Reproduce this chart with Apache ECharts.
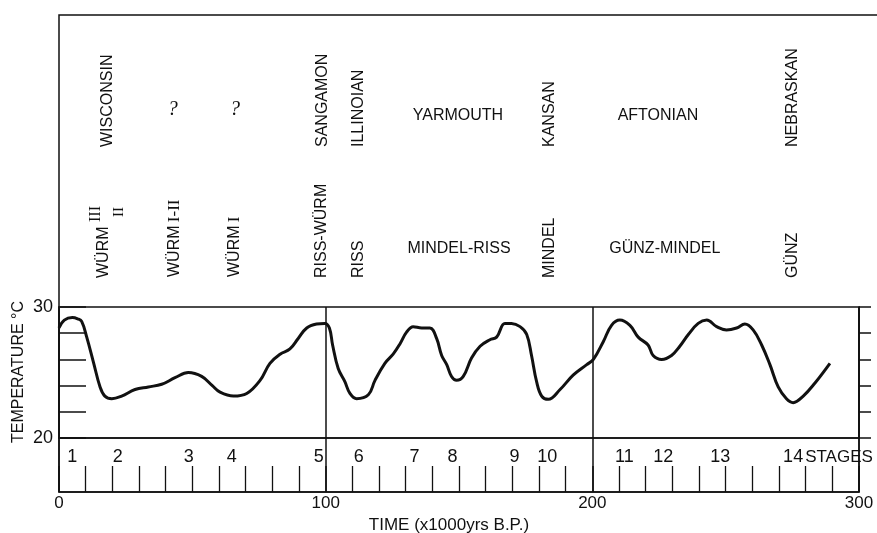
<!DOCTYPE html>
<html><head><meta charset="utf-8">
<script src="https://cdn.jsdelivr.net/npm/echarts@6/dist/echarts.min.js"></script>
<style>html,body{margin:0;padding:0;background:#fff}#c{width:877px;height:533px}</style>
</head><body><div id="c"></div>
<script>
// ---- data ----
const ages = [0,2,5,7,8.5,10.4,12.9,15.4,17.2,19.8,23.5,28.5,33.5,38.5,43.5,48.5,53.5,57.5,60.4,65.4,70.4,75.4,79.1,82.9,86.6,89.7,92.9,96.6,99.7,101.4,102.6,104.7,107.2,109.1,111.6,116,118.5,122.2,125.3,127.9,130.4,132.8,136,139.1,141.6,143.5,145.4,147.2,149.1,151.6,154.7,157.9,161.6,164.1,167.2,169.7,172.9,175.4,177.2,179.1,181,183.5,187.9,192.8,197.9,200.4,204.1,207.2,210.3,214.1,217.2,220.9,222.8,226,229.7,232.8,236,239.7,242.9,246.6,250.3,254.1,257.2,260.3,263.5,266.6,269.7,272.8,275.3,279.1,283.5,289.1];
const temps = [28.4,29.0,29.2,29.1,28.9,27.7,25.8,23.9,23.2,23.0,23.2,23.7,23.9,24.1,24.6,25.0,24.7,24.0,23.5,23.2,23.4,24.4,25.7,26.4,26.8,27.6,28.4,28.7,28.75,28.4,27.1,25.3,24.3,23.4,23.0,23.3,24.4,25.7,26.4,27.2,28.1,28.5,28.4,28.4,27.6,26.3,25.6,24.7,24.4,24.7,26.1,27.0,27.5,27.7,28.75,28.75,28.5,27.9,26.3,24.3,23.2,22.95,23.7,24.8,25.6,26.0,27.35,28.6,29.0,28.6,27.7,27.1,26.3,26.0,26.3,27.0,27.9,28.75,29.0,28.5,28.25,28.4,28.7,28.25,27.1,25.6,23.9,23.0,22.7,23.2,24.2,25.7];
const stageAges = [5,22,48.7,64.8,97.4,112.4,133.3,147.6,170.8,183.1,212,226.6,248,275.3];
const stageNames = ['1','2','3','4','5','6','7','8','9','10','11','12','13','14'];
const stagesWord = 'STAGES';
const timeTicks = [0,100,200,300];
const tempTickLabels = [20,30];
// glacial / interglacial names: text, age (kyr)
const upperVertical = [['WISCONSIN',18.4],['SANGAMON',99],['ILLINOIAN',112.5],['KANSAN',184],['NEBRASKAN',275]];
const lowerVertical = [['RISS-WÜRM',98.6],['RISS',112.5],['MINDEL',184],['GÜNZ',275]];
const wurmLabels = [['WÜRM','I-II',43.5],['WÜRM','I',66]];
const wurmTop = ['WÜRM','III','II',16.9];
const questionAges = [42.7,66];
const horizontalNames = [['YARMOUTH',149.6,'upper'],['MINDEL-RISS',150,'lower'],['AFTONIAN',224.6,'upper'],['GÜNZ-MINDEL',227.2,'lower']];
const yName = 'TEMPERATURE °C';
const xName = 'TIME (x1000yrs B.P.)';

// ---- chart ----
const INK = '#111';
const FONT = '"Liberation Sans", Arial, Helvetica, sans-serif';
const SERIF = '"Liberation Serif", "DejaVu Serif", serif';
const chart = echarts.init(document.getElementById('c'), null, {renderer:'canvas'});
const STAGE_ROW = 0.65;
chart.setOption({
  animation:false,
  backgroundColor:'#fff',
  grid:[
    {left:59, top:307, width:800, height:131, show:true, borderColor:INK, borderWidth:1.5, backgroundColor:'transparent'},
    {left:59, top:438, width:800, height:54, show:true, borderColor:INK, borderWidth:1.5, backgroundColor:'transparent'}
  ],
  xAxis:[
    {gridIndex:0, type:'value', min:0, max:300, interval:100,
     axisLine:{show:false}, axisTick:{show:false}, axisLabel:{show:false},
     splitLine:{show:true, lineStyle:{color:INK, width:1.5}}},
    {gridIndex:1, type:'value', min:0, max:300, interval:100,
     axisLine:{show:true, lineStyle:{color:INK, width:1.5}},
     axisTick:{show:true, inside:true, length:26, lineStyle:{color:INK, width:1.5}},
     minorTick:{show:true, splitNumber:10, length:26, lineStyle:{color:INK, width:1.3}},
     axisLabel:{show:true, margin:3, color:INK, fontSize:17, fontFamily:FONT,
       formatter:v => timeTicks.includes(v) ? String(v) : ''},
     splitLine:{show:true, lineStyle:{color:INK, width:1.5}}}
  ],
  yAxis:[
    {gridIndex:0, type:'value', min:20, max:30, interval:2, position:'left',
     axisLine:{show:true, lineStyle:{color:INK, width:1.5}},
     axisTick:{show:true, inside:true, length:27, lineStyle:{color:INK, width:1.5}},
     axisLabel:{show:true, margin:6, color:INK, fontSize:18, fontFamily:FONT,
       formatter:v => tempTickLabels.includes(v) ? String(v) : ''},
     splitLine:{show:false}},
    {gridIndex:0, type:'value', min:20, max:30, interval:2, position:'right',
     axisLine:{show:true, lineStyle:{color:INK, width:1.5}},
     axisTick:{show:true, inside:false, length:12, lineStyle:{color:INK, width:1.5}},
     axisLabel:{show:false}, splitLine:{show:false}},
    {gridIndex:1, type:'value', min:0, max:1, show:false}
  ],
  series:[
    {type:'line', xAxisIndex:0, yAxisIndex:0, data:ages.map((a,i)=>[a,temps[i]]),
     smooth:0.4, symbol:'none', lineStyle:{color:INK, width:3}, z:5},
    {type:'scatter', xAxisIndex:1, yAxisIndex:2, symbolSize:1, itemStyle:{opacity:1, color:'transparent'},
     data:stageAges.map((a,i)=>({value:[a,STAGE_ROW], name:stageNames[i]})),
     label:{show:true, position:'inside', formatter:p=>p.name, color:INK, opacity:1, fontSize:18, fontFamily:FONT}}
  ]
});

const px = a => chart.convertToPixel({xAxisIndex:0}, a);
const UPPER_BASE = 147, LOWER_BASE = 278;
const g = [];
function vtext(text, x, yBottom, opts) {
  g.push({type:'text', x:x, y:yBottom, rotation:Math.PI/2,
    style:Object.assign({text:text, fill:INK, fontSize:16, fontFamily:FONT,
      align:'left', verticalAlign:'middle'}, opts||{})});
}
// frame of the upper panel
g.push({type:'polyline', shape:{points:[[877,15],[59,15],[59,307]]}, style:{stroke:INK, lineWidth:1.5, fill:null}});
upperVertical.forEach(([t,a]) => vtext(t, px(a), UPPER_BASE));
lowerVertical.forEach(([t,a]) => vtext(t, px(a), LOWER_BASE));
wurmLabels.forEach(([w,n,a]) => {
  g.push({type:'text', x:px(a), y:LOWER_BASE-1, rotation:Math.PI/2,
    style:{text:'{a|'+w+'} {b|'+n+'}', fill:INK, align:'left', verticalAlign:'middle',
      rich:{a:{fontSize:16, fontFamily:FONT, fill:INK}, b:{fontSize:17, fontFamily:SERIF, fill:INK}}}});
});
// WÜRM with stacked III / II
vtext(wurmTop[0], px(wurmTop[3]), LOWER_BASE);
vtext(wurmTop[1], px(wurmTop[3])-8, LOWER_BASE-56, {fontSize:16, fontFamily:SERIF});
vtext(wurmTop[2], px(wurmTop[3])+15, LOWER_BASE-61, {fontSize:15, fontFamily:SERIF});
questionAges.forEach(a => {
  g.push({type:'text', x:px(a), y:110,
    style:{text:'?', fill:INK, fontSize:20, fontFamily:SERIF, fontStyle:'italic', align:'center', verticalAlign:'middle'}});
});
horizontalNames.forEach(([t,a,row]) => {
  g.push({type:'text', x:px(a), y: row==='upper' ? 116 : 249,
    style:{text:t, fill:INK, fontSize:16, fontFamily:FONT, align:'center', verticalAlign:'middle'}});
});
// STAGES word after stage 14
const s14 = chart.convertToPixel({xAxisIndex:1, yAxisIndex:2}, [stageAges[13], STAGE_ROW]);
g.push({type:'text', x:s14[0]+12, y:s14[1], style:{text:stagesWord, fill:INK, fontSize:17, fontFamily:FONT, align:'left', verticalAlign:'middle'}});
// axis names
g.push({type:'text', x:19, y:372, rotation:Math.PI/2,
  style:{text:yName, fill:INK, fontSize:16, fontFamily:FONT, align:'center', verticalAlign:'middle'}});
g.push({type:'text', x:449, y:525,
  style:{text:xName, fill:INK, fontSize:17, fontFamily:FONT, align:'center', verticalAlign:'middle'}});
chart.setOption({graphic:g});
</script></body></html>
